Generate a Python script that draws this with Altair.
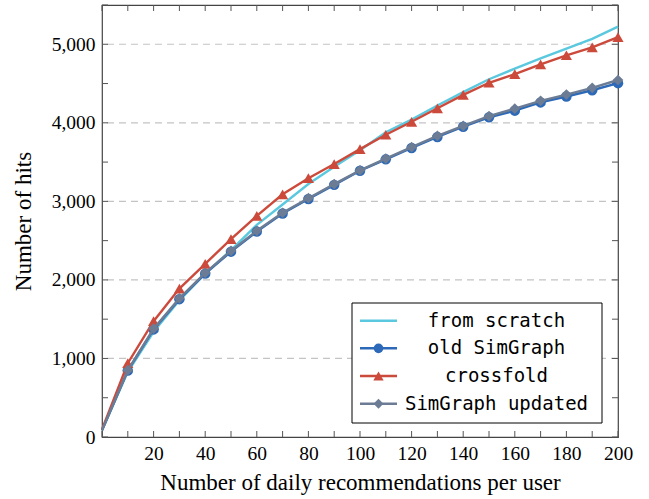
import altair as alt
import pandas as pd

# Number of daily recommendations per user
recs = [0, 10, 20, 30, 40, 50, 60, 70, 80, 90, 100,
        110, 120, 130, 140, 150, 160, 170, 180, 190, 200]

# Number of hits for each method
from_scratch = [85, 830, 1340, 1740, 2080, 2380, 2700, 2960, 3220, 3440, 3650,
                3880, 4040, 4220, 4390, 4555, 4690, 4820, 4945, 5070, 5225]
old_simgraph = [85, 845, 1370, 1755, 2080, 2360, 2615, 2845, 3030, 3210, 3390,
                3535, 3680, 3820, 3950, 4070, 4155, 4260, 4335, 4415, 4505]
crossfold = [95, 940, 1475, 1890, 2205, 2520, 2815, 3090, 3295, 3475, 3665,
             3848, 4013, 4185, 4355, 4510, 4620, 4745, 4860, 4960, 5090]
simgraph_updated = [85, 850, 1380, 1765, 2090, 2370, 2625, 2855, 3040, 3220, 3395,
                    3545, 3690, 3835, 3960, 4085, 4180, 4280, 4360, 4445, 4545]

series_names = ["from scratch", "old SimGraph", "crossfold", "SimGraph updated"]
series_values = [from_scratch, old_simgraph, crossfold, simgraph_updated]
series_colors = ["#5ac8de", "#2c69b8", "#cc4a3b", "#6b7c94"]
series_shapes = [None, "circle", "triangle-up", "diamond"]
marker_sizes = {"circle": 110, "triangle-up": 125, "diamond": 115}

x_ticks = list(range(0, 201, 10))
x_labels = list(range(20, 201, 20))
y_ticks = list(range(0, 5501, 500))
y_labels = list(range(0, 5001, 1000))
y_grid = list(range(1000, 5001, 1000))

W, H = 516, 432
SERIF = "Liberation Serif"
MONO = "DejaVu Sans Mono"

frames = []
for name, vals in zip(series_names, series_values):
    frames.append(pd.DataFrame({"recs": recs, "hits": vals, "method": name}))
data = pd.concat(frames, ignore_index=True)

x_scale = alt.Scale(domain=[0, 200], nice=False, zero=False)
y_scale = alt.Scale(domain=[0, 5500], nice=False)

x_axis = alt.Axis(values=x_labels, ticks=False, domain=False, grid=False,
                  labelFlush=False, labelOverlap=False,
                  labelFont=SERIF, labelFontSize=19.5, labelColor="#000",
                  labelPadding=7,
                  title="Number of daily recommendations per user",
                  titleFont=SERIF, titleFontSize=23, titleFontWeight="normal",
                  titleColor="#000", titlePadding=9)
y_axis = alt.Axis(values=y_labels, ticks=False, domain=False, grid=False,
                  labelFlush=False, labelOverlap=False,
                  format=",d",
                  labelFont=SERIF, labelFontSize=19.5, labelColor="#000",
                  labelPadding=7,
                  title="Number of hits",
                  titleFont=SERIF, titleFontSize=23, titleFontWeight="normal",
                  titleColor="#000", titlePadding=16)


def X(field):
    return alt.X(field, scale=x_scale, axis=x_axis)


def Y(field):
    return alt.Y(field, scale=y_scale, axis=y_axis)


# dashed horizontal grid at the thousands
grid_df = pd.DataFrame({"g": y_grid})
grid = alt.Chart(grid_df).mark_rule(color="#c4c4c4", strokeDash=[7, 5], strokeWidth=1.2).encode(
    y=Y("g:Q")
)

# inward ticks on all four sides
xt_df = pd.DataFrame({"t": x_ticks})
yt_df = pd.DataFrame({"t": y_ticks})
tick_color = "#555555"
ticks_bottom = alt.Chart(xt_df).mark_rule(color=tick_color, strokeWidth=1).encode(
    x=X("t:Q"), y=alt.value(H), y2=alt.value(H - 6))
ticks_top = alt.Chart(xt_df).mark_rule(color=tick_color, strokeWidth=1).encode(
    x=X("t:Q"), y=alt.value(0), y2=alt.value(6))
ticks_left = alt.Chart(yt_df).mark_rule(color=tick_color, strokeWidth=1).encode(
    y=Y("t:Q"), x=alt.value(0), x2=alt.value(6))
ticks_right = alt.Chart(yt_df).mark_rule(color=tick_color, strokeWidth=1).encode(
    y=Y("t:Q"), x=alt.value(W), x2=alt.value(W - 6))

layers = [grid, ticks_bottom, ticks_top, ticks_left, ticks_right]

# one line (and marker set) per method, drawn in legend order
base = alt.Chart(data)
for name, color, shape in zip(series_names, series_colors, series_shapes):
    sub = base.transform_filter(alt.datum.method == name)
    layers.append(sub.mark_line(color=color, strokeWidth=2.4).encode(
        x=X("recs:Q"), y=Y("hits:Q")))
    if shape:
        layers.append(sub.transform_filter(alt.datum.recs > 0).mark_point(
            shape=shape, filled=True, color=color, size=marker_sizes[shape],
            opacity=1).encode(x=X("recs:Q"), y=Y("hits:Q")))

# legend box
LX0, LX1, LY0, LY1 = 250, 500, 298, 418
legend_df = pd.DataFrame({"method": series_names})
layers.append(alt.Chart(legend_df.head(1)).mark_rect(
    fill="white", stroke="black", strokeWidth=1).encode(
    x=alt.value(LX0), x2=alt.value(LX1), y=alt.value(LY0), y2=alt.value(LY1)))

row_y = [315.7, 343.3, 371.0, 398.7]
for name, color, shape, ry in zip(series_names, series_colors, series_shapes, row_y):
    entry = alt.Chart(legend_df).transform_filter(alt.datum.method == name)
    layers.append(entry.mark_rule(color=color, strokeWidth=2.4).encode(
        x=alt.value(258), x2=alt.value(295), y=alt.value(ry)))
    if shape:
        layers.append(entry.mark_point(shape=shape, filled=True, color=color,
                                       size=marker_sizes[shape] * 0.85,
                                       opacity=1).encode(
            x=alt.value(276.5), y=alt.value(ry)))
    layers.append(entry.mark_text(font=MONO, fontSize=19, align="center",
                                  baseline="middle", color="#000").encode(
        x=alt.value(394.5), y=alt.value(ry), text="method:N"))

chart = alt.layer(*layers).properties(
    width=W, height=H,
    autosize=alt.AutoSizeParams(type="none"),
    padding={"left": 102, "top": 5, "right": 31, "bottom": 62},
    background="white",
).configure_view(stroke="#444444", strokeWidth=1.2)

chart.save("out.html", embed_options={"renderer": "svg", "actions": False})
